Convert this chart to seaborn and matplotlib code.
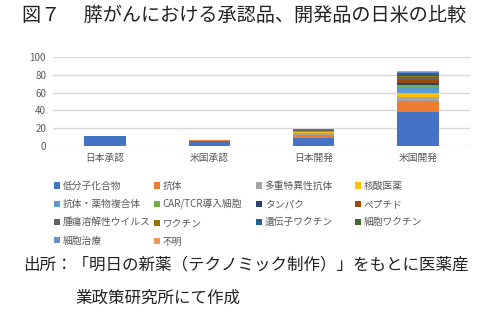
import numpy as np
import pandas as pd
import seaborn as sns
import matplotlib.pyplot as plt
from matplotlib.patches import Patch

# data
groups = ['日本承認', '米国承認', '日本開発', '米国開発']
modalities = ['低分子化合物', '抗体', '多重特異性抗体', '核酸医薬',
              '抗体・薬物複合体', 'CAR/TCR導入細胞', 'タンパク', 'ペプチド',
              '腫瘍溶解性ウイルス', 'ワクチン', '遺伝子ワクチン', '細胞ワクチン',
              '細胞治療', '不明']
counts = {
    '低分子化合物':       [11, 6, 9, 38],
    '抗体':              [0, 1, 3, 12],
    '多重特異性抗体':      [0, 0, 3, 5],
    '核酸医薬':           [0, 0, 1, 5],
    '抗体・薬物複合体':    [0, 0, 1, 6],
    'CAR/TCR導入細胞':    [0, 0, 0, 2],
    'タンパク':           [0, 0, 0, 3],
    'ペプチド':           [0, 0, 0, 3],
    '腫瘍溶解性ウイルス':  [0, 0, 1, 3],
    'ワクチン':           [0, 0, 1, 2],
    '遺伝子ワクチン':      [0, 0, 0, 2],
    '細胞ワクチン':        [0, 0, 0, 1],
    '細胞治療':           [0, 0, 0, 1],
    '不明':              [0, 0, 0, 1],
}
colors = ['#4472C4', '#ED7D31', '#A5A5A5', '#FFC000', '#5B9BD5', '#70AD47',
          '#264478', '#9E480E', '#636363', '#997300', '#255E91', '#43682B',
          '#698ED0', '#F1975A']

jp = ['Noto Sans CJK JP', 'DejaVu Sans']

sns.set_style('white')
plt.rcParams['font.family'] = jp

fig = plt.figure(figsize=[5, 3.2], dpi=100)
ax = fig.add_axes([0.106, 0.544, 0.834, 0.278])

bottom = np.zeros(len(groups))
for name, col in zip(modalities, colors):
    vals = np.array(counts[name], dtype=float)
    df = pd.DataFrame({'group': groups, 'n': vals})
    sns.barplot(data=df, x='group', y='n', order=groups, color=col,
                width=0.4, bottom=bottom, linewidth=0, saturation=1,
                errorbar=None, ax=ax)
    bottom += vals

ax.set_ylim(0, 100)
ax.set_yticks(range(0, 101, 20))
ax.set_xlabel('')
ax.set_ylabel('')
ax.yaxis.grid(True, color='#D9D9D9', linewidth=1)
ax.set_axisbelow(True)
for s in ax.spines.values():
    s.set_visible(False)
ax.tick_params(axis='both', length=0, labelsize=7, colors='#595959', pad=5)

# legend, four columns, filled row by row like the original
handles = [Patch(facecolor=c, edgecolor='none') for c in colors]
col_x = [55, 155, 257, 356]
for j, x in enumerate(col_x):
    idx = list(range(j, len(modalities), 4))
    fig.legend([handles[i] for i in idx], [modalities[i] for i in idx],
               loc='upper left', bbox_to_anchor=(x / 500 - 0.012, 1 - 176 / 320),
               frameon=False, fontsize=7, handlelength=0.6, handleheight=0.6,
               handletextpad=0.3, labelspacing=0.85, borderpad=0,
               labelcolor='#595959')

fig.text(22 / 500, 1 - 15 / 320, '図７　 膵がんにおける承認品、開発品の日米の比較',
         fontsize=13.8, va='center', ha='left', color='#222222')
fig.text(23 / 500, 1 - 265 / 320, '出所：「明日の新薬（テクノミック制作）」をもとに医薬産',
         fontsize=11.9, va='center', ha='left', color='#222222')
fig.text(75 / 500, 1 - 298 / 320, '業政策研究所にて作成',
         fontsize=11.9, va='center', ha='left', color='#222222')

fig.savefig('out.png', dpi=100)
